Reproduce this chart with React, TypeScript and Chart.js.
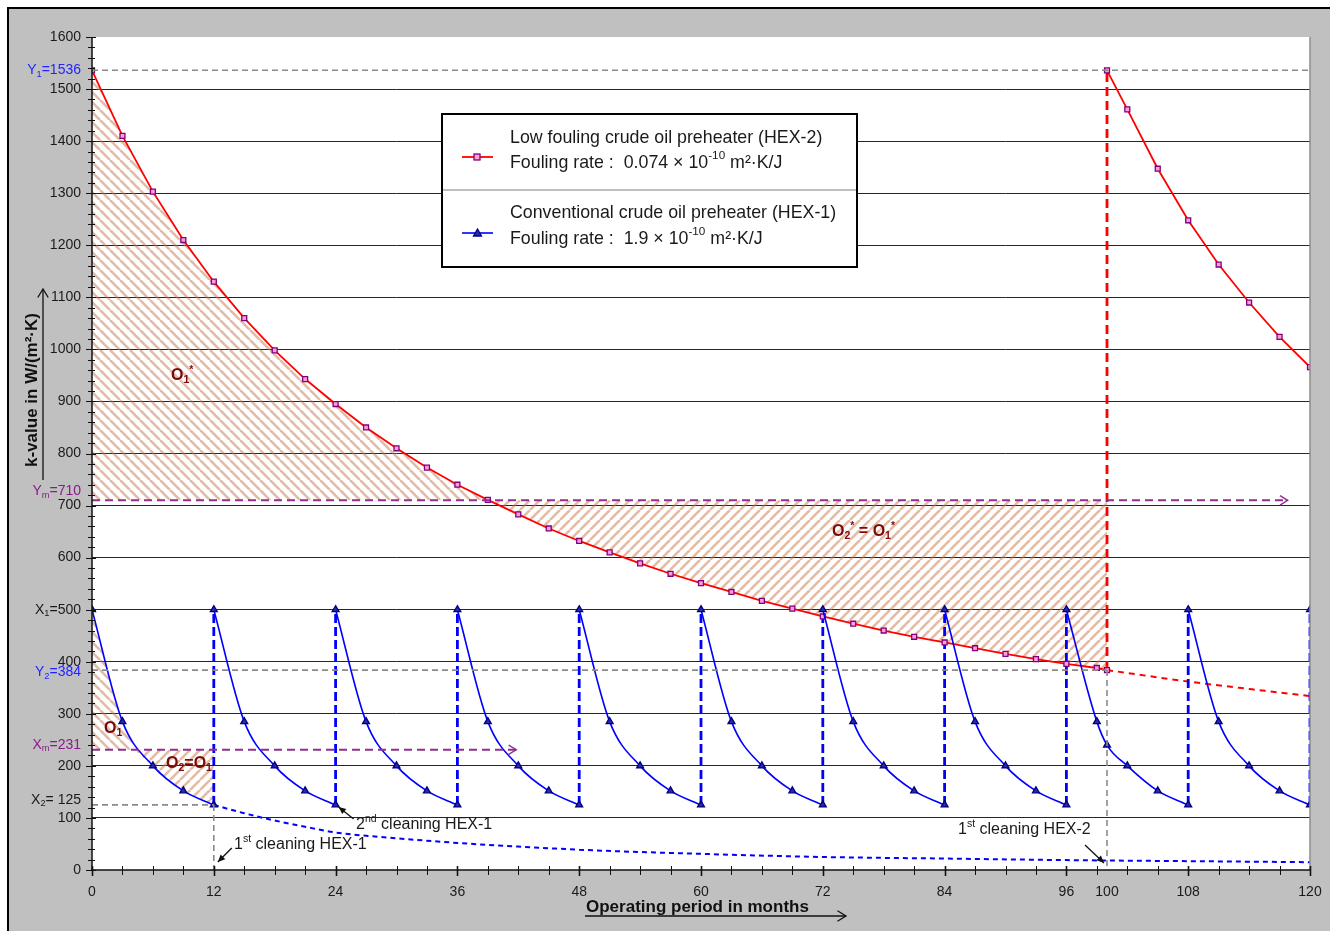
import React, { useEffect, useRef } from "react";
import { Chart, registerables } from "chart.js";

Chart.register(...registerables);

const FONT = "'Liberation Sans', Arial, Helvetica, sans-serif";

// ---------------- Data ----------------
// Low fouling crude oil preheater (HEX-2), first run 0..100 months
const hex2Months = [0, 3, 6, 9, 12, 15, 18, 21, 24, 27, 30, 33, 36, 39, 42, 45, 48, 51, 54, 57, 60, 63, 66, 69, 72, 75, 78, 81, 84, 87, 90, 93, 96, 99, 100];
const hex2K = [1536, 1410, 1303, 1210, 1130, 1060, 998, 943, 895, 850, 810, 773, 740, 711, 683, 656, 632, 610, 589, 569, 551, 534, 517, 502, 487, 473, 460, 448, 437, 426, 415, 405, 396, 388, 384];
// HEX-2 after its 1st cleaning
const hex2AfterCleanMonths = [100, 102, 105, 108, 111, 114, 117, 120];
const hex2AfterCleanK = [1536, 1461, 1347, 1248, 1163, 1090, 1024, 966];
// HEX-2 without cleaning (dotted)
const hex2UncleanedMonths = [100, 108, 120];
const hex2UncleanedK = [384, 362, 334];

// Conventional crude oil preheater (HEX-1), cleaned every 12 months (null = break between cycles)
const hex1Months = [
  0, 3, 6, 9, 12, 12,
  12, 15, 18, 21, 24, 24,
  24, 27, 30, 33, 36, 36,
  36, 39, 42, 45, 48, 48,
  48, 51, 54, 57, 60, 60,
  60, 63, 66, 69, 72, 72,
  72, 75, 78, 81, 84, 84,
  84, 87, 90, 93, 96, 96,
  96, 99, 100, 102, 105, 108, 108,
  108, 111, 114, 117, 120, 120,
  120,
];
const hex1K = [
  500, 285, 200, 152, 125, null,
  500, 285, 200, 152, 125, null,
  500, 285, 200, 152, 125, null,
  500, 285, 200, 152, 125, null,
  500, 285, 200, 152, 125, null,
  500, 285, 200, 152, 125, null,
  500, 285, 200, 152, 125, null,
  500, 285, 200, 152, 125, null,
  500, 285, 240, 200, 152, 125, null,
  500, 285, 200, 152, 125, null,
  500,
];
const hex1CleanMonths = [12, 24, 36, 48, 60, 72, 84, 96, 108, 120];
// HEX-1 without cleaning (dotted)
const hex1UncleanedMonths = [12, 15, 18, 21, 24, 30, 36, 48, 60, 72, 84, 96, 108, 120];
const hex1UncleanedK = [125, 109, 95, 83, 72, 61, 52, 39, 31, 25, 22, 19, 17, 15];

// Reference values
const Y1 = 1536;
const Y2 = 384;
const Ym = 710;
const X1 = 500;
const Xm = 231;
const X2 = 125;
const hex2CleanMonth = 100;
const hex2CrossMonth = 39; // HEX-2 curve meets Ym
const hex1CrossMonth = 4.2; // HEX-1 curve meets Xm
const ymArrowEndMonth = 117.8;
const xmArrowEndMonth = 41.8;

// Axis ticks
const xTickMonths = [0, 12, 24, 36, 48, 60, 72, 84, 96, 100, 108, 120];
const xTickLabels = ["0", "12", "24", "36", "48", "60", "72", "84", "96", "100", "108", "120"];
const xMinorMonths = [0, 3, 6, 9, 12, 15, 18, 21, 24, 27, 30, 33, 36, 39, 42, 45, 48, 51, 54, 57, 60, 63, 66, 69, 72, 75, 78, 81, 84, 87, 90, 93, 96, 99, 102, 105, 108, 111, 114, 117, 120];
const yTickValues = [0, 100, 200, 300, 400, 500, 600, 700, 800, 900, 1000, 1100, 1200, 1300, 1400, 1500, 1600];
const yTickLabels = ["0", "100", "200", "300", "400", "", "600", "700", "800", "900", "1000", "1100", "1200", "1300", "1400", "1500", "1600"];

type Part = { t: string; s?: "sub" | "sup" };

const refLabels: { value: number; parts: Part[]; color: string; dy: number }[] = [
  { value: Y1, parts: [{ t: "Y" }, { t: "1", s: "sub" }, { t: "=1536" }], color: "#2323ff", dy: 0 },
  { value: Ym, parts: [{ t: "Y" }, { t: "m", s: "sub" }, { t: "=710" }], color: "#8b1a8b", dy: -9 },
  { value: X1, parts: [{ t: "X" }, { t: "1", s: "sub" }, { t: "=500" }], color: "#1a1a1a", dy: 0 },
  { value: Y2, parts: [{ t: "Y" }, { t: "2", s: "sub" }, { t: "=384" }], color: "#2323ff", dy: 2 },
  { value: Xm, parts: [{ t: "X" }, { t: "m", s: "sub" }, { t: "=231" }], color: "#8b1a8b", dy: -5 },
  { value: X2, parts: [{ t: "X" }, { t: "2", s: "sub" }, { t: "= 125" }], color: "#1a1a1a", dy: -5 },
];

// ---------------- helpers ----------------
const pts = (xs: number[], ys: (number | null)[]) => xs.map((x, i) => ({ x, y: ys[i] }));

function drawRich(
  ctx: CanvasRenderingContext2D,
  parts: Part[],
  x: number,
  y: number,
  size: number,
  color: string,
  align: "left" | "right" | "center" = "left",
  weight = "normal"
) {
  const small = size * 0.66;
  const widths = parts.map((p) => {
    ctx.font = `${weight} ${p.s ? small : size}px ${FONT}`;
    return ctx.measureText(p.t).width;
  });
  const total = widths.reduce((a, b) => a + b, 0);
  let cx = align === "left" ? x : align === "right" ? x - total : x - total / 2;
  ctx.save();
  ctx.textAlign = "left";
  ctx.textBaseline = "middle";
  ctx.fillStyle = color;
  parts.forEach((p, i) => {
    ctx.font = `${weight} ${p.s ? small : size}px ${FONT}`;
    const dy = p.s === "sub" ? size * 0.28 : p.s === "sup" ? -size * 0.38 : 0;
    ctx.fillText(p.t, cx, y + dy);
    cx += widths[i];
  });
  ctx.restore();
}

function arrow(
  ctx: CanvasRenderingContext2D,
  x1: number,
  y1: number,
  x2: number,
  y2: number,
  color: string,
  width: number,
  head: number,
  filled: boolean
) {
  ctx.save();
  ctx.strokeStyle = color;
  ctx.fillStyle = color;
  ctx.lineWidth = width;
  ctx.setLineDash([]);
  ctx.beginPath();
  ctx.moveTo(x1, y1);
  ctx.lineTo(x2, y2);
  ctx.stroke();
  const a = Math.atan2(y2 - y1, x2 - x1);
  const sp = filled ? 0.42 : 0.55;
  const p1x = x2 - head * Math.cos(a - sp);
  const p1y = y2 - head * Math.sin(a - sp);
  const p2x = x2 - head * Math.cos(a + sp);
  const p2y = y2 - head * Math.sin(a + sp);
  ctx.beginPath();
  if (filled) {
    ctx.moveTo(x2, y2);
    ctx.lineTo(p1x, p1y);
    ctx.lineTo(p2x, p2y);
    ctx.closePath();
    ctx.fill();
  } else {
    ctx.moveTo(p1x, p1y);
    ctx.lineTo(x2, y2);
    ctx.lineTo(p2x, p2y);
    ctx.stroke();
  }
  ctx.restore();
}

function dashed(
  ctx: CanvasRenderingContext2D,
  x1: number,
  y1: number,
  x2: number,
  y2: number,
  color: string,
  width: number,
  dash: number[]
) {
  ctx.save();
  ctx.strokeStyle = color;
  ctx.lineWidth = width;
  ctx.setLineDash(dash);
  ctx.beginPath();
  ctx.moveTo(x1, y1);
  ctx.lineTo(x2, y2);
  ctx.stroke();
  ctx.restore();
}

function makeHatch(dir: "back" | "fwd") {
  const period = 10;
  const c = document.createElement("canvas");
  c.width = period;
  c.height = period;
  const g = c.getContext("2d")!;
  g.strokeStyle = "rgba(200,120,78,0.5)";
  g.lineWidth = 2.6;
  for (const off of [-period, 0, period]) {
    g.beginPath();
    if (dir === "back") {
      g.moveTo(off, 0);
      g.lineTo(off + period, period);
    } else {
      g.moveTo(off, period);
      g.lineTo(off + period, 0);
    }
    g.stroke();
  }
  return g.createPattern(c, "repeat")!;
}

// ---------------- plugin ----------------
const decor = {
  id: "decor",
  beforeDraw(chart: any) {
    const ctx: CanvasRenderingContext2D = chart.ctx;
    const { width, height } = chart;
    const ca = chart.chartArea;
    ctx.save();
    ctx.fillStyle = "#ffffff";
    ctx.fillRect(0, 0, width, height);
    ctx.fillStyle = "#c0c0c0";
    ctx.fillRect(8, 8, width - 8, height - 8);
    ctx.fillStyle = "#000000";
    ctx.fillRect(7, 7, 2, height - 7);
    ctx.fillRect(7, 7, width - 7, 2);
    ctx.fillStyle = "#ffffff";
    ctx.fillRect(ca.left, ca.top, ca.right - ca.left, ca.bottom - ca.top);
    ctx.restore();
  },
  afterDatasetsDraw(chart: any) {
    const ctx: CanvasRenderingContext2D = chart.ctx;
    const xs = chart.scales.x;
    const ys = chart.scales.y;
    const px = (m: number) => xs.getPixelForValue(m);
    const py = (v: number) => ys.getPixelForValue(v);
    const gray = "#8a8a8a";
    const gd = [6, 4];
    dashed(ctx, px(0), py(Y1), px(120), py(Y1), gray, 1.6, gd);
    dashed(ctx, px(0), py(Y2), px(hex2CleanMonth), py(Y2), gray, 1.6, gd);
    dashed(ctx, px(0), py(X2), px(12), py(X2), gray, 1.6, gd);
    dashed(ctx, px(12), py(X2), px(12), py(0), gray, 1.6, gd);
    dashed(ctx, px(hex2CleanMonth), py(Y2), px(hex2CleanMonth), py(0), gray, 1.6, gd);
    const purple = "#912e91";
    dashed(ctx, px(0), py(Ym), px(ymArrowEndMonth), py(Ym), purple, 2, [8, 5]);
    arrow(ctx, px(ymArrowEndMonth) - 2, py(Ym), px(ymArrowEndMonth), py(Ym), purple, 1.4, 9, false);
    dashed(ctx, px(0), py(Xm), px(xmArrowEndMonth), py(Xm), purple, 2, [8, 5]);
    arrow(ctx, px(xmArrowEndMonth) - 2, py(Xm), px(xmArrowEndMonth), py(Xm), purple, 1.4, 9, false);

    // area labels
    const dr = "#7d0a0a";
    drawRich(ctx, [{ t: "O" }, { t: "1", s: "sub" }, { t: "*", s: "sup" }], 171, 376, 16, dr, "left", "bold");
    drawRich(ctx, [{ t: "O" }, { t: "2", s: "sub" }, { t: "*", s: "sup" }, { t: " = O" }, { t: "1", s: "sub" }, { t: "*", s: "sup" }], 832, 532, 16, dr, "left", "bold");
    drawRich(ctx, [{ t: "O" }, { t: "1", s: "sub" }], 104, 729, 16, dr, "left", "bold");
    drawRich(ctx, [{ t: "O" }, { t: "2", s: "sub" }, { t: "=O" }, { t: "1", s: "sub" }], 166, 764, 16, dr, "left", "bold");
  },
  afterDraw(chart: any) {
    const ctx: CanvasRenderingContext2D = chart.ctx;
    const ca = chart.chartArea;
    const xs = chart.scales.x;
    const ys = chart.scales.y;
    const px = (m: number) => xs.getPixelForValue(m);
    const py = (v: number) => ys.getPixelForValue(v);
    ctx.save();
    // right border of plot
    ctx.strokeStyle = "#8c8c8c";
    ctx.lineWidth = 1.5;
    ctx.beginPath();
    ctx.moveTo(ca.right, ca.top);
    ctx.lineTo(ca.right, ca.bottom);
    ctx.stroke();
    // axes
    ctx.strokeStyle = "#111";
    ctx.lineWidth = 1.5;
    ctx.beginPath();
    ctx.moveTo(ca.left, ca.top);
    ctx.lineTo(ca.left, ca.bottom + 1);
    ctx.moveTo(ca.left - 1, ca.bottom);
    ctx.lineTo(ca.right, ca.bottom);
    ctx.stroke();
    // y ticks
    ctx.lineWidth = 1;
    ctx.beginPath();
    for (let v = 0; v <= 1600; v += 20) {
      const y = Math.round(py(v)) + 0.5;
      if (v % 100 === 0) {
        ctx.moveTo(ca.left - 6, y);
        ctx.lineTo(ca.left + 4, y);
      } else {
        ctx.moveTo(ca.left - 4, y);
        ctx.lineTo(ca.left + 3, y);
      }
    }
    ctx.stroke();
    // x ticks
    xMinorMonths.forEach((m) => {
      const x = Math.round(px(m)) + 0.5;
      ctx.lineWidth = m % 12 === 0 ? 1.6 : 1;
      ctx.beginPath();
      ctx.moveTo(x, ca.bottom - 4);
      ctx.lineTo(x, ca.bottom + (m % 12 === 0 ? 6 : 5));
      ctx.stroke();
    });
    // tick labels
    ctx.fillStyle = "#1a1a1a";
    ctx.font = `14px ${FONT}`;
    ctx.textAlign = "right";
    ctx.textBaseline = "middle";
    yTickValues.forEach((v, i) => {
      if (yTickLabels[i]) ctx.fillText(yTickLabels[i], 81, py(v));
    });
    ctx.textAlign = "center";
    xTickMonths.forEach((m, i) => {
      ctx.fillText(xTickLabels[i], px(m), 892);
    });
    refLabels.forEach((l) => drawRich(ctx, l.parts, 81, py(l.value) + l.dy, 14, l.color, "right"));

    // axis titles
    ctx.fillStyle = "#111";
    ctx.font = `bold 17px ${FONT}`;
    ctx.textAlign = "left";
    ctx.textBaseline = "middle";
    ctx.fillText("Operating period in months", 586, 907);
    arrow(ctx, 585, 916, 846, 916, "#111", 1.3, 10, false);
    ctx.save();
    ctx.translate(32, 390);
    ctx.rotate(-Math.PI / 2);
    ctx.textAlign = "center";
    ctx.fillText("k-value in W/(m²·K)", 0, 0);
    ctx.restore();
    arrow(ctx, 43, 480, 43, 289, "#111", 1.3, 10, false);

    // annotations
    const a1x = px(12), a1y = py(0);
    arrow(ctx, a1x + 18, a1y - 22, a1x + 4, a1y - 8, "#111", 1.3, 8, true);
    drawRich(ctx, [{ t: "1" }, { t: "st", s: "sup" }, { t: " cleaning HEX-1" }], 234, 845, 16, "#1a1a1a");
    const a2x = px(24), a2y = py(X2);
    arrow(ctx, a2x + 18, a2y + 14, a2x + 3, a2y + 2, "#111", 1.3, 8, true);
    drawRich(ctx, [{ t: "2" }, { t: "nd", s: "sup" }, { t: " cleaning HEX-1" }], 356, 825, 16, "#1a1a1a");
    const a3x = px(hex2CleanMonth), a3y = py(0);
    arrow(ctx, a3x - 22, a3y - 25, a3x - 3, a3y - 7, "#111", 1.3, 8, true);
    drawRich(ctx, [{ t: "1" }, { t: "st", s: "sup" }, { t: " cleaning HEX-2" }], 958, 830, 16, "#1a1a1a");

    // legend
    ctx.fillStyle = "#ffffff";
    ctx.fillRect(442, 114, 415, 153);
    ctx.strokeStyle = "#000";
    ctx.lineWidth = 2;
    ctx.strokeRect(442, 114, 415, 153);
    ctx.strokeStyle = "#a8a8a8";
    ctx.lineWidth = 1.5;
    ctx.beginPath();
    ctx.moveTo(443, 190);
    ctx.lineTo(856, 190);
    ctx.stroke();
    // sample red
    ctx.strokeStyle = "#ff0000";
    ctx.lineWidth = 1.8;
    ctx.beginPath();
    ctx.moveTo(462, 157);
    ctx.lineTo(493, 157);
    ctx.stroke();
    ctx.fillStyle = "#ff9ecf";
    ctx.strokeStyle = "#800080";
    ctx.lineWidth = 1.3;
    ctx.fillRect(474, 154, 6, 6);
    ctx.strokeRect(474, 154, 6, 6);
    // sample blue
    ctx.strokeStyle = "#0000ff";
    ctx.lineWidth = 1.6;
    ctx.beginPath();
    ctx.moveTo(462, 233);
    ctx.lineTo(493, 233);
    ctx.stroke();
    ctx.fillStyle = "#2a2aa8";
    ctx.strokeStyle = "#000080";
    ctx.lineWidth = 1.3;
    ctx.beginPath();
    ctx.moveTo(477.5, 229);
    ctx.lineTo(481.5, 236);
    ctx.lineTo(473.5, 236);
    ctx.closePath();
    ctx.fill();
    ctx.stroke();
    const ls = 17.8;
    drawRich(ctx, [{ t: "Low fouling crude oil preheater (HEX-2)" }], 510, 138, ls, "#1a1a1a");
    drawRich(ctx, [{ t: "Fouling rate :  0.074 × 10" }, { t: "-10", s: "sup" }, { t: " m²·K/J" }], 510, 163, ls, "#1a1a1a");
    drawRich(ctx, [{ t: "Conventional crude oil preheater (HEX-1)" }], 510, 213, ls, "#1a1a1a");
    drawRich(ctx, [{ t: "Fouling rate :  1.9 × 10" }, { t: "-10", s: "sup" }, { t: " m²·K/J" }], 510, 239, ls, "#1a1a1a");
    ctx.restore();
  },
};

export default function App() {
  const ref = useRef<HTMLCanvasElement>(null);
  useEffect(() => {
    const canvas = ref.current!;
    const hatchBack = makeHatch("back");
    const hatchFwd = makeHatch("fwd");

    const hex2Pts = pts(hex2Months, hex2K);
    const hex1Pts = pts(hex1Months, hex1K);
    const firstCycle = hex1Pts.slice(0, 5) as { x: number; y: number }[];

    const o1StarData = hex2Pts.filter((p) => p.x <= hex2CrossMonth);
    const o2StarData = hex2Pts.filter((p) => p.x >= hex2CrossMonth);
    const o1Data = [...firstCycle.filter((p) => p.x < hex1CrossMonth), { x: hex1CrossMonth, y: Xm }];
    const o2Data = [{ x: hex1CrossMonth, y: Xm }, ...firstCycle.filter((p) => p.x > hex1CrossMonth)];

    const cleanData: { x: number; y: number | null }[] = [];
    hex1CleanMonths.forEach((m) => {
      cleanData.push({ x: m, y: X2 }, { x: m, y: X1 }, { x: m, y: null });
    });

    const fillBase = {
      borderWidth: 0,
      borderColor: "rgba(0,0,0,0)",
      pointRadius: 0,
      order: 10,
    };

    const chart = new Chart(canvas, {
      type: "line",
      data: {
        datasets: [
          { ...fillBase, data: o1StarData, fill: { value: Ym }, backgroundColor: hatchBack },
          { ...fillBase, data: o2StarData, fill: { value: Ym }, backgroundColor: hatchFwd },
          { ...fillBase, data: o1Data, fill: { value: Xm }, backgroundColor: hatchBack, cubicInterpolationMode: "monotone" },
          { ...fillBase, data: o2Data, fill: { value: Xm }, backgroundColor: hatchFwd, cubicInterpolationMode: "monotone" },
          {
            data: pts(hex1UncleanedMonths, hex1UncleanedK),
            borderColor: "#0000ff",
            borderWidth: 2,
            borderDash: [5, 4],
            pointRadius: 0,
            cubicInterpolationMode: "monotone",
            fill: false,
            order: 5,
          },
          {
            data: pts(hex2UncleanedMonths, hex2UncleanedK),
            borderColor: "#ff0000",
            borderWidth: 2,
            borderDash: [6, 5],
            pointRadius: 0,
            cubicInterpolationMode: "monotone",
            fill: false,
            order: 5,
          },
          {
            data: cleanData,
            borderColor: "#0000ff",
            borderWidth: 2.8,
            borderDash: [9, 4],
            pointRadius: 0,
            fill: false,
            order: 4,
          },
          {
            data: [
              { x: hex2CleanMonth, y: Y2 },
              { x: hex2CleanMonth, y: Y1 },
            ],
            borderColor: "#ff0000",
            borderWidth: 2.8,
            borderDash: [9, 5],
            pointRadius: 0,
            fill: false,
            order: 4,
          },
          {
            data: hex2Pts,
            borderColor: "#ff0000",
            borderWidth: 1.8,
            pointStyle: "rect",
            pointRadius: 3.5,
            pointBorderColor: "#800080",
            pointBackgroundColor: "#ff9ecf",
            pointBorderWidth: 1.3,
            tension: 0,
            fill: false,
            order: 2,
          },
          {
            data: pts(hex2AfterCleanMonths, hex2AfterCleanK),
            borderColor: "#ff0000",
            borderWidth: 1.8,
            pointStyle: "rect",
            pointRadius: 3.5,
            pointBorderColor: "#800080",
            pointBackgroundColor: "#ff9ecf",
            pointBorderWidth: 1.3,
            tension: 0,
            fill: false,
            order: 2,
          },
          {
            data: hex1Pts,
            borderColor: "#0000ff",
            borderWidth: 1.6,
            pointStyle: "triangle",
            pointRadius: 4,
            pointBorderColor: "#000080",
            pointBackgroundColor: "#2a2aa8",
            pointBorderWidth: 1.3,
            cubicInterpolationMode: "monotone",
            fill: false,
            order: 1,
          },
        ] as any,
      },
      options: {
        animation: false,
        responsive: false,
        maintainAspectRatio: false,
        events: [],
        layout: { padding: { left: 0, right: 20, top: 37, bottom: 0 } },
        plugins: {
          legend: { display: false },
          tooltip: { enabled: false },
          title: { display: false },
          filler: { drawTime: "beforeDatasetsDraw" },
        } as any,
        scales: {
          x: {
            type: "linear",
            min: 0,
            max: 120,
            grid: { display: false },
            border: { display: false },
            ticks: { display: false },
            afterFit: (s: any) => {
              s.height = 61;
            },
          },
          y: {
            type: "linear",
            min: 0,
            max: 1600,
            ticks: { display: false, stepSize: 100 },
            grid: {
              drawTicks: false,
              lineWidth: 1,
              color: (c: any) => (c.tick && c.tick.value > 0 && c.tick.value < 1600 ? "#262626" : "rgba(0,0,0,0)"),
            },
            border: { display: false },
            afterFit: (s: any) => {
              s.width = 92;
            },
          },
        } as any,
      },
      plugins: [decor],
    });
    return () => chart.destroy();
  }, []);

  return (
    <canvas
      ref={ref}
      width={1330}
      height={931}
      style={{ position: "fixed", left: 0, top: 0, width: 1330, height: 931, display: "block" }}
    />
  );
}
